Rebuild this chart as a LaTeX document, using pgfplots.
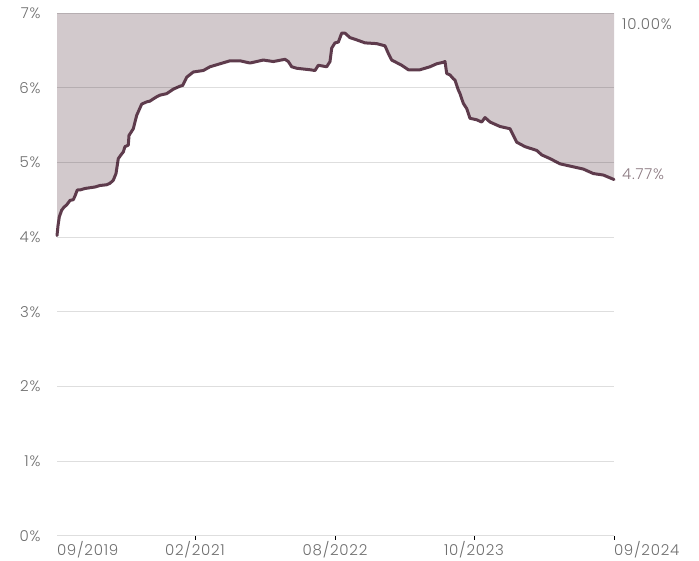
\documentclass[border=0pt]{standalone}
\usepackage{pgfplots}
\pgfplotsset{compat=1.18}
\usepackage{pgfplotstable}
\usepgfplotslibrary{fillbetween}
\usepackage{fontspec}
\setmainfont{Poppins}[UprightFont={* Light}, LetterSpace=5]
\definecolor{fillc}{HTML}{D2C9CC}
\definecolor{linec}{HTML}{5E3B4C}
\definecolor{labc}{HTML}{6E6E6E}
\definecolor{endc}{HTML}{8A7880}
\pgfplotstableread{
x y
57 4.02
58 4.15
59.3 4.27
61.7 4.36
64 4.40
66.7 4.43
70 4.49
73.3 4.50
75 4.55
77.3 4.63
80 4.63
85 4.65
90 4.66
95 4.67
100 4.69
106.7 4.70
110 4.72
113.3 4.76
116 4.85
118.3 5.05
121 5.10
123.3 5.14
125 5.21
128.3 5.23
129 5.36
133.3 5.45
136.7 5.63
141.7 5.78
146.7 5.81
150 5.82
153.3 5.85
157 5.88
160 5.90
166.7 5.92
173.3 5.98
180 6.02
182.7 6.03
186.7 6.14
193.3 6.21
203.3 6.23
206 6.25
210 6.28
220 6.32
230 6.36
240 6.36
250 6.33
263.3 6.37
273.3 6.35
285 6.38
288.3 6.35
291.7 6.28
296.7 6.26
310 6.24
315 6.23
318.3 6.30
326.7 6.28
330 6.35
331.7 6.53
335 6.60
338.3 6.61
341.7 6.73
345 6.73
350 6.67
356.7 6.64
365 6.60
376.7 6.59
385 6.56
388.3 6.46
391.7 6.37
401.7 6.30
408.3 6.24
420 6.24
430 6.28
436.7 6.32
443.3 6.34
445 6.35
446.7 6.19
450 6.17
453.3 6.12
455 6.10
458.3 5.97
460 5.92
463.3 5.79
466.7 5.72
470 5.59
476.7 5.57
481.7 5.54
485 5.60
490 5.54
500 5.48
510 5.45
516.7 5.27
525 5.21
536.7 5.16
541.7 5.10
550 5.05
560 4.98
573.3 4.94
583.3 4.91
593.3 4.85
603.3 4.83
614 4.77
}\ratedata
\begin{document}
\begin{tikzpicture}
\begin{axis}[
  at={(57pt,24.3pt)}, anchor=south west,
  scale only axis, width=557pt, height=522.7pt,
  xmin=57, xmax=614, ymin=0, ymax=7,
  axis line style={draw=none},
  tick pos=left,
  ytick={0,1,2,3,4,5,6,7},
  yticklabels={0\%,1\%,2\%,3\%,4\%,5\%,6\%,7\%},
  ymajorgrids,
  grid style={black, opacity=0.13, line width=0.9pt},
  y tick style={draw=none},
  xtick={57,195,335,474,614},
  xticklabels={\rlap{09/2019},02/2021,08/2022,10/2023,\rlap{09/2024}},
  x tick style={draw=none},
  extra x ticks={195,335,474,614},
  extra x tick labels={},
  extra x tick style={x tick style={draw=black, line width=0.9pt}, major tick length=4pt, tick align=outside, xmajorgrids=false},
  ticklabel style={font=\fontsize{15}{17}\selectfont, text=labc},
  yticklabel style={xshift=-13pt},
  xticklabel style={yshift=-2pt},
  axis on top,
  clip=false,
]
\addplot[name path=L, draw=none] table {\ratedata};
\addplot[name path=T, draw=none] coordinates {(57,7) (614,7)};
\addplot[fill=fillc, draw=none] fill between[of=L and T];
\addplot[linec, line width=3pt, line join=round, line cap=round] table {\ratedata};
\node[anchor=west, inner sep=0pt, xshift=8pt, font=\fontsize{15}{17}\selectfont, text=labc] at (axis cs:614,6.85) {10.00\%};
\node[anchor=west, inner sep=0pt, xshift=8pt, font=\fontsize{15}{17}\selectfont, text=endc] at (axis cs:614,4.84) {4.77\%};
\end{axis}
\pgfresetboundingbox
\path[use as bounding box] (0,0) rectangle (699pt,560pt);
\end{tikzpicture}
\end{document}
